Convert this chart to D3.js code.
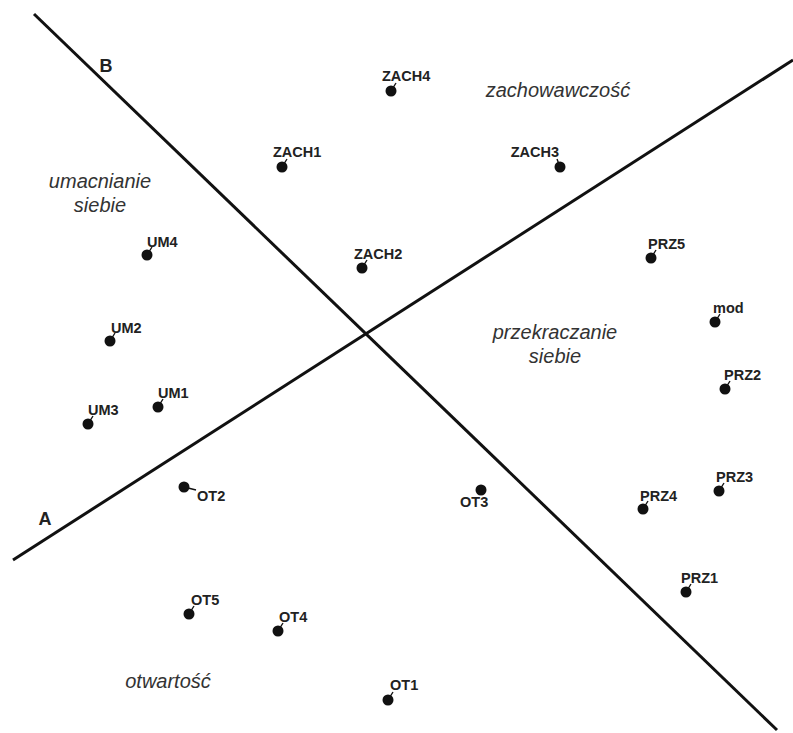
<!DOCTYPE html>
<html>
<head>
<meta charset="utf-8">
<script src="https://cdn.jsdelivr.net/npm/d3@7"></script>
<style>
  body { margin: 0; background: #fff; }
  text { font-family: "Liberation Sans", Arial, sans-serif; }
</style>
</head>
<body>
<script>
// chart size
var svgWidth = 793;
var svgHeight = 733;

// point names and coordinates (two dimensions)
var names = ["ZACH4","ZACH1","ZACH3","ZACH2","UM4","UM2","UM1","UM3","OT2","OT3","OT5","OT4","OT1","PRZ5","mod","PRZ2","PRZ3","PRZ4","PRZ1"];
var dim1 = [0.24,-0.85,1.93,-0.05,-2.20,-2.57,-2.09,-2.79,-1.83,1.14,-1.78,-0.89,0.21,2.84,3.48,3.58,3.52,2.76,3.19];
var dim2 = [2.44,1.68,1.68,0.67,0.80,-0.06,-0.72,-0.89,-1.52,-1.55,-2.79,-2.96,-3.65,0.77,0.13,-0.54,-1.56,-1.74,-2.57];

// dividing lines A and B (end points)
var lineNames = ["A","B"];
var lineX = [[-3.54, 4.26], [-3.33, 4.10]];
var lineY = [[-2.25, 2.75], [3.21, -3.95]];

// region labels
var regions = [["zachowawczość"], ["umacnianie","siebie"], ["przekraczanie","siebie"], ["otwartość"]];
var regionX = [1.91, -2.67, 1.88, -1.99];
var regionY = [2.38, 1.47, -0.04, -3.53];

// label placement: [dx, dy, anchor, leaderDx, leaderDy]
var labelPos = {
  ZACH3: [-1, -10, "end", -3, -8],
  OT2: [13, 14, "start", 12, 3],
  OT3: [-21, 17, "start", 0, 0],
  ZACH4: [-9, -10], ZACH1: [-9, -10], ZACH2: [-8, -9],
  UM4: [0, -8], UM2: [1, -8], UM1: [0, -9], UM3: [0, -9],
  OT5: [2, -9], OT4: [1, -9], OT1: [2, -10],
  PRZ5: [-3, -9], mod: [-2, -9], PRZ2: [-1, -9], PRZ3: [-3, -9], PRZ4: [-3, -8], PRZ1: [-5, -9]
};

var points = names.map(function(n, i) { return {name: n, x: dim1[i], y: dim2[i]}; });

var xScale = d3.scaleLinear().domain([-3.67, 4.26]).range([0, svgWidth]);
var yScale = d3.scaleLinear().domain([3.35, -3.98]).range([0, svgHeight]);

var svg = d3.select("body")
  .append("svg")
  .attr("width", svgWidth)
  .attr("height", svgHeight);

// lines
lineNames.forEach(function(n, i) {
  svg.append("line")
    .attr("x1", xScale(lineX[i][0])).attr("y1", yScale(lineY[i][0]))
    .attr("x2", xScale(lineX[i][1])).attr("y2", yScale(lineY[i][1]))
    .attr("stroke", "#111").attr("stroke-width", 3);
});
svg.append("text").attr("x", xScale(-3.22)).attr("y", yScale(-1.90))
  .attr("text-anchor", "middle").attr("font-size", 18).attr("font-weight", "bold")
  .attr("fill", "#222").text("A");
svg.append("text").attr("x", xScale(-2.61)).attr("y", yScale(2.63))
  .attr("text-anchor", "middle").attr("font-size", 18).attr("font-weight", "bold")
  .attr("fill", "#222").text("B");

// region labels
regions.forEach(function(r, i) {
  r.forEach(function(t, j) {
    svg.append("text")
      .attr("x", xScale(regionX[i]))
      .attr("y", yScale(regionY[i]) + j * 24)
      .attr("text-anchor", "middle")
      .attr("font-size", 20)
      .attr("font-style", "italic")
      .attr("fill", "#333")
      .text(t);
  });
});

// points
var g = svg.selectAll("g.pt").data(points).enter().append("g").attr("class", "pt");
g.append("line")
  .attr("x1", function(d) { return xScale(d.x); })
  .attr("y1", function(d) { return yScale(d.y); })
  .attr("x2", function(d) { var p = labelPos[d.name]; return xScale(d.x) + (p.length > 3 ? p[3] : 5); })
  .attr("y2", function(d) { var p = labelPos[d.name]; return yScale(d.y) + (p.length > 3 ? p[4] : -8); })
  .attr("stroke", "#111").attr("stroke-width", 1.4);
g.append("circle")
  .attr("cx", function(d) { return xScale(d.x); })
  .attr("cy", function(d) { return yScale(d.y); })
  .attr("r", 5.5)
  .attr("fill", "#111");
g.append("text")
  .attr("x", function(d) { return xScale(d.x) + labelPos[d.name][0]; })
  .attr("y", function(d) { return yScale(d.y) + labelPos[d.name][1]; })
  .attr("text-anchor", function(d) { return labelPos[d.name][2] || "start"; })
  .attr("font-size", 14.5)
  .attr("font-weight", "bold")
  .attr("fill", "#222")
  .text(function(d) { return d.name; });
</script>
</body>
</html>
